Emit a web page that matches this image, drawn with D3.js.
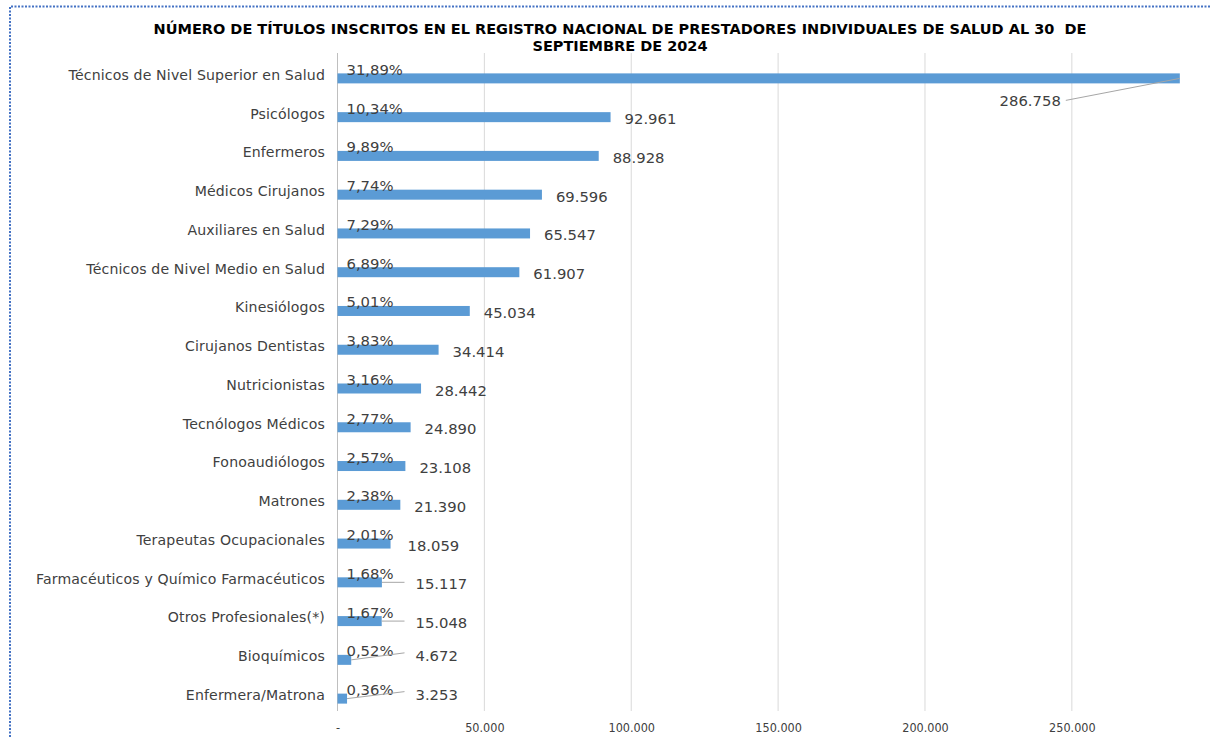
<!DOCTYPE html>
<html><head><meta charset="utf-8">
<script src="https://cdn.jsdelivr.net/npm/d3@7"></script>
<style>html,body{margin:0;padding:0;background:#fff;}svg{display:block;}</style>
</head><body>
<svg id="chart" width="1210" height="739"></svg>
<script>
const titleLines = ["NÚMERO DE TÍTULOS INSCRITOS EN EL REGISTRO NACIONAL DE PRESTADORES INDIVIDUALES DE SALUD AL 30\u00a0 DE", "SEPTIEMBRE DE 2024"];
const categories = ["Técnicos de Nivel Superior en Salud","Psicólogos","Enfermeros","Médicos Cirujanos","Auxiliares en Salud","Técnicos de Nivel Medio en Salud","Kinesiólogos","Cirujanos Dentistas","Nutricionistas","Tecnólogos Médicos","Fonoaudiólogos","Matrones","Terapeutas Ocupacionales","Farmacéuticos y Químico Farmacéuticos","Otros Profesionales(*)","Bioquímicos","Enfermera/Matrona"];
const values = [286758,92961,88928,69596,65547,61907,45034,34414,28442,24890,23108,21390,18059,15117,15048,4672,3253];
const percentLabels = ["31,89%","10,34%","9,89%","7,74%","7,29%","6,89%","5,01%","3,83%","3,16%","2,77%","2,57%","2,38%","2,01%","1,68%","1,67%","0,52%","0,36%"];
const xTicks = [0,50000,100000,150000,200000,250000];

const svg = d3.select("#chart");
const loc = d3.formatLocale({decimal:",", thousands:".", grouping:[3], currency:["",""]});
const fmt = loc.format(",d");
const tickFmt = d => d === 0 ? "-" : fmt(d);
const textColor = "#404040";

// border (dotted)
svg.append("path").attr("d","M10,737 L10,6.5 L1210,6.5")
  .attr("fill","none").attr("stroke","#4472c4").attr("stroke-width",2).attr("stroke-dasharray","2,1.5");

// title
const title = svg.append("g");
titleLines.forEach((t,i)=>{
  title.append("text").attr("x",620).attr("y",34 + i*17).attr("text-anchor","middle")
    .attr("font-family","DejaVu Sans").attr("font-weight","bold").attr("font-size",14.5)
    .attr("fill","#000").text(t);
});

const x = d3.scaleLinear().domain([0,287500]).range([337.5,1182]);
const y = d3.scaleBand().domain(categories).range([54,713]);
const gridTop = 53, gridBottom = 711;

// gridlines
svg.append("g").selectAll("line").data(xTicks.filter(d=>d>0)).join("line")
  .attr("x1",d=>x(d)).attr("x2",d=>x(d)).attr("y1",gridTop).attr("y2",gridBottom)
  .attr("stroke","#d9d9d9").attr("stroke-width",1);
// left axis line
svg.append("line").attr("x1",x(0)).attr("x2",x(0)).attr("y1",gridTop).attr("y2",gridBottom)
  .attr("stroke","#bfbfbf").attr("stroke-width",1);

// x tick labels
const xAxis = d3.axisBottom(x).tickValues(xTicks).tickFormat(tickFmt).tickSize(0).tickPadding(0);
const gx = svg.append("g").attr("transform",`translate(0,${gridBottom+10})`).call(xAxis);
gx.select(".domain").remove();
gx.selectAll("text").attr("font-family","DejaVu Sans Condensed").attr("font-size",12.5)
  .attr("fill",textColor).attr("dy","0.85em");

// y category labels
const yAxis = d3.axisLeft(y).tickSize(0).tickPadding(0);
const gy = svg.append("g").attr("transform","translate(325,0)").call(yAxis);
gy.select(".domain").remove();
gy.selectAll("text").attr("font-family","DejaVu Sans").attr("font-size",14.1)
  .attr("letter-spacing","0.15px")
  .attr("fill",textColor).attr("dy","0.45em");

const rows = categories.map((c,i)=>({c, v:values[i], p:percentLabels[i]}));
const barH = 10;
const yc = d => y(d.c) + y.bandwidth()/2;

// bars
svg.append("g").selectAll("rect").data(rows).join("rect")
  .attr("x",x(0)).attr("y",d=>yc(d)).attr("width",d=>x(d.v)-x(0)).attr("height",barH)
  .attr("fill","#5b9bd5");

// percent labels
svg.append("g").selectAll("text").data(rows).join("text")
  .attr("x",x(0)+9).attr("y",d=>yc(d)+1.5)
  .attr("font-family","DejaVu Sans").attr("font-size",14.8).attr("fill",textColor)
  .text(d=>d.p);

// value labels with leader lines
const vg = svg.append("g");
const minLabelX = x(0) + 70;
rows.forEach(d=>{
  const xe = x(d.v), cy = yc(d) + barH/2;
  const fs = 14.8;
  if (xe + 14 + 70 > x.range()[1]) {
    const lx = xe - 119, ly = cy + 28;
    vg.append("line").attr("x1",lx+5).attr("y1",ly-6).attr("x2",xe).attr("y2",cy)
      .attr("stroke","#a6a6a6").attr("stroke-width",1);
    vg.append("text").attr("x",lx).attr("y",ly).attr("text-anchor","end")
      .attr("font-family","DejaVu Sans").attr("font-size",fs).attr("fill",textColor).text(fmt(d.v));
    return;
  }
  let lx = Math.max(xe + 14, minLabelX);
  const tiny = (xe - x(0)) < 20;
  let ly = cy + 7;
  if (lx - xe > 20) {
    lx += 8;
    const endY = tiny ? cy - 7 : cy;
    vg.append("line").attr("x1",xe).attr("y1",cy).attr("x2",lx-11).attr("y2",endY)
      .attr("stroke","#a6a6a6").attr("stroke-width",1);
    if (tiny) ly = cy + 1;
  }
  vg.append("text").attr("x",lx).attr("y",ly)
    .attr("font-family","DejaVu Sans").attr("font-size",fs).attr("fill",textColor).text(fmt(d.v));
});
</script>
</body></html>
